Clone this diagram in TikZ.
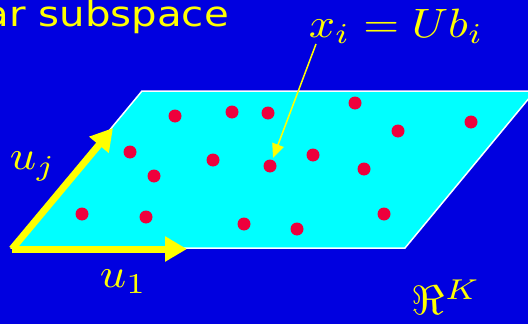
\documentclass[tikz,border=0pt]{standalone}
\usepackage{fontspec}
\newfontfamily\titlefont{DejaVu Sans}
\usetikzlibrary{arrows.meta}
\definecolor{bgblue}{RGB}{0,0,224}
\definecolor{plane}{RGB}{0,255,255}
\definecolor{dotred}{RGB}{238,0,60}
\definecolor{ylw}{RGB}{255,255,0}
\tikzset{
  pt/.style={circle,fill=dotred,draw=none,minimum size=13pt,inner sep=0pt},
  vec/.style={draw=ylw,line width=7pt,-{Triangle[length=22pt,width=24pt]}},
  lbl/.style={text=ylw,inner sep=0pt,font=\fontsize{10}{12}\selectfont,xscale=4.6,yscale=4.1},
}
\begin{document}
\begin{tikzpicture}[x=1pt,y=-1pt]
\useasboundingbox (0,0) rectangle (528,324);
\clip (0,0) rectangle (528,324);
\fill[bgblue] (0,0) rectangle (528,324);
\node[text=ylw,inner sep=0pt,anchor=base east,font=\titlefont\fontsize{35}{40}\selectfont,xscale=1.15] (title) at (229,27) {ar subspace};
\path[fill=plane,draw=white,line width=1.5pt] (12,248) -- (142,91) -- (535,91) -- (405,248) -- cycle;
\node[pt] (d1) at (175,116) {};
\node[pt] (d2) at (232,112) {};
\node[pt] (d3) at (268,113) {};
\node[pt] (d4) at (355,103) {};
\node[pt] (d5) at (398,131) {};
\node[pt] (d6) at (471,122) {};
\node[pt] (d7) at (130,152) {};
\node[pt] (d8) at (213,160) {};
\node[pt] (d9) at (270,166) {};
\node[pt] (d10) at (313,155) {};
\node[pt] (d11) at (364,169) {};
\node[pt] (d12) at (154,176) {};
\node[pt] (d13) at (82,214) {};
\node[pt] (d14) at (146,217) {};
\node[pt] (d15) at (244,224) {};
\node[pt] (d16) at (297,229) {};
\node[pt] (d17) at (384,214) {};
\coordinate (o) at (12,249);
\coordinate (e1) at (187,249);
\coordinate (ej) at (113,128);
\draw[vec] (o) -- (e1);
\draw[vec] (o) -- (ej);
\node[lbl,anchor=base west] (uj) at (9,169) {$u_j$};
\node[lbl,anchor=base west] (u1) at (99,287) {$u_1$};
\node[lbl,anchor=base west] (xi) at (308,37) {$x_i = Ub_i$};
\node[lbl,anchor=base west] (rk) at (411,314) {$\Re^K$};
\coordinate (xs) at (316,44);
\draw[ylw,line width=1.5pt,shorten >=2pt,-{Triangle[length=14pt,width=12pt]}] (xs) -- (d9);
\end{tikzpicture}
\end{document}
